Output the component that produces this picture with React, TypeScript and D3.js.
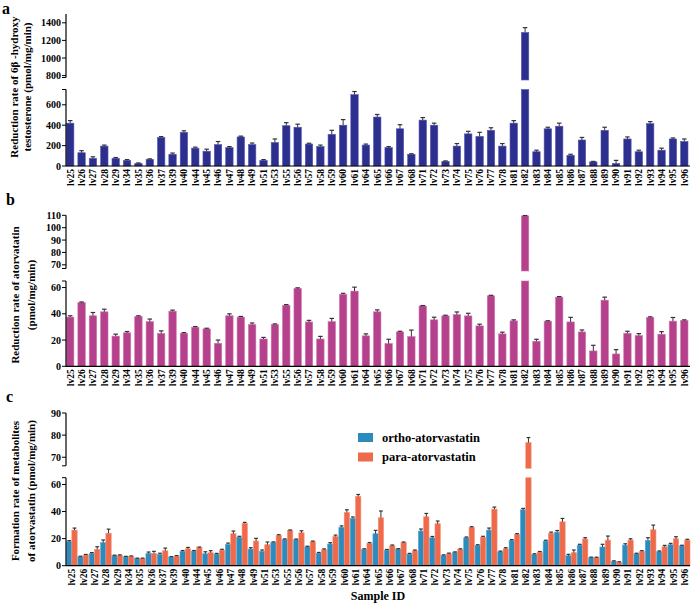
import React from 'react';
import * as d3 from 'd3';

const sampleIds = [
  25, 26, 27, 28, 29, 34, 35, 36, 37, 39, 40, 44, 45, 46, 47, 48, 49, 51, 53, 55,
  56, 57, 58, 59, 60, 61, 64, 65, 66, 67, 68, 71, 72, 73, 74, 75, 76, 77, 78, 81,
  82, 83, 84, 85, 86, 87, 88, 89, 90, 91, 92, 93, 94, 95, 96,
];
const samples = sampleIds.map(n => `lv${n}`);

// panel a: 6β-hydroxy testosterone
const testoRate = [
  420, 130, 75, 195, 75, 55, 25, 65, 280, 115, 330, 175, 145, 210, 180, 285, 210, 55, 230, 395,
  380, 215, 190, 310, 400, 700, 205, 480, 180, 365, 115, 450, 400, 45, 195, 315, 290, 350, 195, 420,
  1290, 140, 365, 390, 105, 255, 40, 350, 25, 265, 140, 415, 155, 265, 240,
];
const testoErr = [
  25, 20, 15, 10, 8, 8, 5, 5, 8, 12, 15, 10, 20, 30, 10, 8, 15, 8, 35, 30,
  30, 8, 15, 40, 55, 30, 10, 25, 10, 40, 5, 25, 20, 5, 25, 25, 40, 25, 25, 25,
  55, 15, 15, 30, 10, 25, 5, 30, 30, 20, 15, 20, 20, 10, 25,
];

// panel b: atorvastatin reduction
const atorRate = [
  37.5, 48.5, 38.5, 41.5, 23, 25.5, 38, 34, 25, 42, 25.2, 29.8, 28.5, 17.5, 38.5, 37.5, 31.8, 20.8, 31.8, 46.5,
  59.3, 33.8, 20.8, 34, 54.8, 57.3, 23.2, 41.5, 17.3, 26.2, 22.6, 46, 35.4, 38.4, 39.4, 38.4, 30.8, 53.7, 24.7, 34.6,
  109.5, 19.1, 34.4, 52.7, 33.8, 26.2, 11.7, 50.4, 9.4, 25.2, 23.4, 37.2, 24.4, 34.4, 34.9,
];
const atorErr = [
  1, 0.5, 2.5, 2, 1.5, 1, 0.5, 2, 2, 0.8, 0.5, 0.5, 0.5, 2.5, 1.5, 0.5, 1.2, 1.2, 0.5, 0.5,
  0.5, 1.2, 2, 2.5, 0.8, 3, 1.5, 1.5, 3.3, 0.5, 5, 0.3, 2, 0.5, 2, 2, 1.3, 0.4, 1.3, 0.8,
  0.3, 1.5, 0.3, 0.4, 3.5, 1.5, 4.3, 2.3, 3.3, 1.5, 1.5, 0.5, 2, 2.8, 0.5,
];

// panel c: metabolite formation
const orthoRate = [
  17.7, 6.6, 9.1, 17, 7.4, 6.6, 5.2, 9.1, 8.4, 6.4, 10.6, 10.8, 8.8, 8.6, 15.7, 21.1, 12.3, 10.6, 17.2, 19.4,
  19.2, 14, 9.3, 16, 28.4, 35, 12, 23.6, 11.5, 12.3, 8.6, 25.6, 20.6, 7.6, 9.8, 20.6, 15, 26.3, 10.3, 18.7,
  41.3, 8.4, 18.2, 24.8, 7.4, 15.2, 5.9, 13.8, 3.2, 15.2, 8.8, 18.7, 10.3, 15.5, 14.7,
];
const orthoErr = [
  0.8, 0.4, 0.6, 2, 0.4, 0.3, 0.4, 1, 0.8, 0.3, 0.6, 0.4, 1.5, 0.5, 1, 0.6, 1, 1, 0.4, 0.4,
  0.5, 0.4, 0.5, 1, 1, 1, 0.5, 2.5, 0.5, 0.3, 0.5, 1.5, 1, 0.4, 0.4, 0.6, 0.5, 1.5, 0.5, 0.6,
  1, 0.4, 0.6, 1.2, 1, 0.6, 0.4, 2, 0.4, 1, 0.4, 2, 0.6, 1, 0.4,
];
const paraRate = [
  26.3, 7.9, 12, 24, 7.6, 6.9, 5.2, 9.1, 11, 7.1, 12.5, 13.3, 9.6, 11.5, 23.6, 31.2, 18.2, 15.5, 22.4, 26,
  24.3, 17.7, 11.8, 21.6, 39.3, 51.1, 16.5, 35.4, 14.7, 17, 11, 36.1, 31, 8.8, 12, 28.3, 21.1, 41.8, 12.5, 23.1,
  76.6, 10, 24, 32.4, 9.6, 19.7, 5.9, 18.9, 2.5, 18.9, 10.6, 26.5, 14, 19.9, 18.9,
];
const paraErr = [
  1.5, 0.4, 2, 3, 0.4, 0.3, 0.4, 1.5, 2, 0.4, 1, 0.5, 1.5, 0.6, 2, 0.8, 2, 2, 0.5, 0.4,
  1.5, 0.5, 0.6, 1, 2, 1.5, 0.6, 5, 0.6, 0.5, 0.6, 2.5, 2, 0.5, 0.5, 0.5, 0.6, 1.5, 0.8, 0.6,
  2.3, 0.5, 0.8, 2.5, 2, 1, 0.4, 3, 0.4, 1, 0.5, 3.5, 1, 1.5, 0.6,
];

const aLowTicks = [0, 200, 400, 600];
const aHighTicks = [800, 1000, 1200, 1400];
const bLowTicks = [0, 20, 40, 60];
const bHighTicks = [70, 80, 90, 100, 110];
const cLowTicks = [0, 20, 40, 60];
const cHighTicks = [70, 80, 90];
const legendNames = ['ortho-atorvastatin', 'para-atorvastatin'];

const FONT = 'Liberation Serif, DejaVu Serif, serif';
const X0 = 66.5;
const X1 = 688;
const AXIS_END = 690;

interface Frame {
  lowY: [number, number]; // pixel of 0 and of breakAt
  highY: [number, number]; // pixel of breakAt and of max
  breakAt: number;
  max: number;
}

type Scales = { low: d3.ScaleLinear<number, number>; high: d3.ScaleLinear<number, number> };

const makeScales = (f: Frame): Scales => ({
  low: d3.scaleLinear().domain([0, f.breakAt]).range(f.lowY),
  high: d3.scaleLinear().domain([f.breakAt, f.max]).range(f.highY),
});

// bar split across the broken axis
const BrokenBar = ({ s, f, x, w, v, err, fill, stroke }: {
  s: Scales; f: Frame; x: number; w: number; v: number; err: number; fill: string; stroke: string;
}) => {
  const parts: [number, number][] = [];
  if (v <= f.breakAt) parts.push([s.low(v), s.low(0)]);
  else {
    parts.push([s.low(f.breakAt), s.low(0)]);
    parts.push([s.high(v), s.high(f.breakAt)]);
  }
  const top = v <= f.breakAt ? s.low(v) : s.high(v);
  const tv = v + err;
  const errTop = tv <= f.breakAt ? s.low(tv) : s.high(tv);
  const cx = x + w / 2;
  const cap = Math.min(4.5, w * 0.7);
  return (
    <g>
      {parts.map(([y0, y1], i) => (
        <rect key={i} x={x} y={y0} width={w} height={Math.max(0, y1 - y0)}
          fill={fill} stroke={stroke} strokeWidth={0.6} />
      ))}
      <line x1={cx} x2={cx} y1={top} y2={errTop} stroke="#333" strokeWidth={1} />
      <line x1={cx - cap / 2} x2={cx + cap / 2} y1={errTop} y2={errTop} stroke="#333" strokeWidth={1.2} />
    </g>
  );
};

const YAxis = ({ s, f, lowTicks, highTicks }: { s: Scales; f: Frame; lowTicks: number[]; highTicks: number[] }) => {
  const ax = 66;
  const tick = (y: number, label: string | null, key: string) => (
    <g key={key}>
      <line x1={ax - 4} x2={ax} y1={y} y2={y} stroke="#000" strokeWidth={1} />
      {label !== null && (
        <text x={ax - 5} y={y} dy="0.35em" textAnchor="end" fontSize={10} fontWeight="bold" fontFamily={FONT}>
          {label}
        </text>
      )}
    </g>
  );
  return (
    <g>
      <line x1={ax} x2={ax} y1={f.lowY[0]} y2={f.lowY[1]} stroke="#000" strokeWidth={1.2} />
      <line x1={ax} x2={ax} y1={f.highY[0] - 2.5} y2={f.highY[1]} stroke="#000" strokeWidth={1.2} />
      {lowTicks.map(t => tick(s.low(t), String(t), `l${t}`))}
      {tick(f.lowY[1], null, 'lend')}
      {highTicks.map(t => tick(s.high(t), String(t), `h${t}`))}
      {tick(f.highY[0] - 2.5, null, 'hend')}
    </g>
  );
};

const XLabels = ({ x, y }: { x: d3.ScaleBand<string>; y: number }) => (
  <g>
    <line x1={X0 - 0.5} x2={AXIS_END} y1={y} y2={y} stroke="#000" strokeWidth={1.2} />
    {samples.map(d => (
      <text key={d} transform={`translate(${(x(d) ?? 0) + x.bandwidth() / 2},${y + 3}) rotate(-90)`}
        dy="0.35em" textAnchor="end" fontSize={9.5} fontWeight="bold" fontFamily={FONT}>
        {d}
      </text>
    ))}
  </g>
);

const YTitle = ({ lines, xs, cy }: { lines: string[]; xs: number[]; cy: number }) => (
  <g>
    {lines.map((l, i) => (
      <text key={i} transform={`translate(${xs[i]},${cy}) rotate(-90)`} textAnchor="middle"
        fontSize={11} fontWeight="bold" fontFamily={FONT}>
        {l}
      </text>
    ))}
  </g>
);

const frameA: Frame = { lowY: [166, 89.5], highY: [80, 14], breakAt: 750, max: 1500 };
const frameB: Frame = { lowY: [366.3, 281], highY: [271, 215.3], breakAt: 65, max: 110 };
const frameC: Frame = { lowY: [565.7, 477.7], highY: [468.3, 413], breakAt: 65, max: 90 };

export default function App() {
  const xSingle = d3.scaleBand<string>().domain(samples).range([X0, X1]).paddingInner(0.35).paddingOuter(0);
  const xGroup = d3.scaleBand<string>().domain(samples).range([X0, AXIS_END]).paddingInner(0.06).paddingOuter(0);
  const xSub = d3.scaleBand<string>().domain(['o', 'p']).range([0, xGroup.bandwidth()]);

  const sA = makeScales(frameA);
  const sB = makeScales(frameB);
  const sC = makeScales(frameC);

  const blue = '#2d2f8f';
  const magenta = '#b5418d';
  const teal = '#2b8bbd';
  const coral = '#ee6a4b';

  return (
    <svg width={697} height={606} style={{ position: 'absolute', left: 0, top: 0, background: '#fff' }}>
      {/* panel a */}
      <text x={2} y={14} fontSize={16} fontWeight="bold" fontFamily={FONT}>a</text>
      <YTitle lines={['Reduction rate of 6β -hydroxy', 'testosterone (pmol/mg/min)']} xs={[18, 31]} cy={87} />
      {samples.map((d, i) => (
        <BrokenBar key={d} s={sA} f={frameA} x={xSingle(d) ?? 0} w={xSingle.bandwidth()}
          v={testoRate[i]} err={testoErr[i]} fill={blue} stroke="#5557b0" />
      ))}
      <YAxis s={sA} f={frameA} lowTicks={aLowTicks} highTicks={aHighTicks} />
      <XLabels x={xSingle} y={166} />

      {/* panel b */}
      <text x={6} y={205} fontSize={16} fontWeight="bold" fontFamily={FONT}>b</text>
      <YTitle lines={['Reduction rate of atorvatatin', '(pmol/mg/min)']} xs={[19, 35]} cy={295} />
      {samples.map((d, i) => (
        <BrokenBar key={d} s={sB} f={frameB} x={xSingle(d) ?? 0} w={xSingle.bandwidth()}
          v={atorRate[i]} err={atorErr[i]} fill={magenta} stroke="#cf73ae" />
      ))}
      <YAxis s={sB} f={frameB} lowTicks={bLowTicks} highTicks={bHighTicks} />
      <XLabels x={xSingle} y={366.3} />

      {/* panel c */}
      <text x={6} y={402} fontSize={16} fontWeight="bold" fontFamily={FONT}>c</text>
      <YTitle lines={['Formation rate of metabolites', 'of atorvastatin (pmol/mg/min)']} xs={[19, 35]} cy={491} />
      {samples.map((d, i) => {
        const gx = xGroup(d) ?? 0;
        return (
          <g key={d}>
            <BrokenBar s={sC} f={frameC} x={gx + (xSub('o') ?? 0)} w={xSub.bandwidth()}
              v={orthoRate[i]} err={orthoErr[i]} fill={teal} stroke="#5aa7d0" />
            <BrokenBar s={sC} f={frameC} x={gx + (xSub('p') ?? 0)} w={xSub.bandwidth()}
              v={paraRate[i]} err={paraErr[i]} fill={coral} stroke="#f3927b" />
          </g>
        );
      })}
      <YAxis s={sC} f={frameC} lowTicks={cLowTicks} highTicks={cHighTicks} />
      <XLabels x={xGroup} y={565.7} />

      {/* legend */}
      {legendNames.map((n, i) => (
        <g key={n} transform={`translate(358,${433 + i * 19.5})`}>
          <rect width={15} height={9} fill={i === 0 ? teal : coral} />
          <text x={24} y={4.5} dy="0.35em" fontSize={12.5} fontWeight="bold" fontFamily={FONT}>{n}</text>
        </g>
      ))}

      <text x={378} y={600} textAnchor="middle" fontSize={12} fontWeight="bold" fontFamily={FONT}>Sample ID</text>
    </svg>
  );
}
